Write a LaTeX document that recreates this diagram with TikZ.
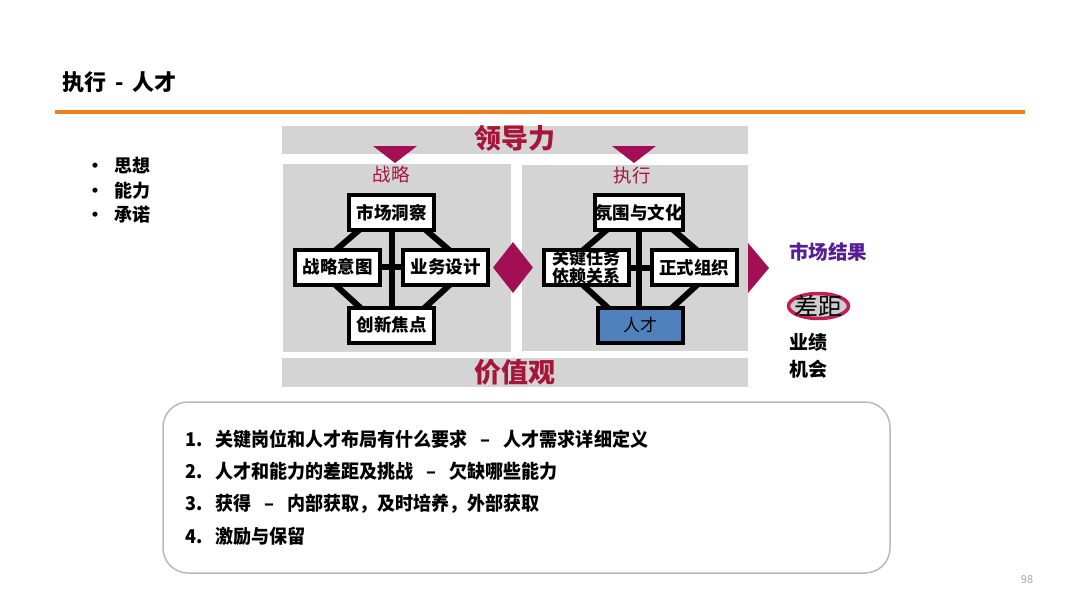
\documentclass[tikz,border=0pt]{standalone}
\usepackage{fontspec}
\setmainfont{Noto Sans CJK SC}
\newfontfamily\cjkn[FakeStretch=0.95]{Noto Sans CJK SC}
\usetikzlibrary{calc,shapes.geometric}
\pgfdeclarelayer{back}
\pgfdeclarelayer{mid}
\pgfsetlayers{back,mid,main}
\definecolor{redtxt}{RGB}{165,22,58}
\definecolor{mag}{RGB}{163,15,85}
\definecolor{purp}{RGB}{85,30,150}
\definecolor{talent}{RGB}{79,129,189}
\definecolor{panelg}{RGB}{212,212,212}
\definecolor{ellg}{RGB}{205,205,205}
\definecolor{ellb}{RGB}{192,30,90}
\definecolor{orng}{RGB}{240,125,30}
\definecolor{frameg}{RGB}{185,185,185}
\tikzset{
  box/.style={draw=black, line width=4pt, fill=white, minimum width=85pt, minimum height=35pt,
    inner sep=0pt, align=center, font=\fontsize{17.5}{18}\selectfont\bfseries},
  panel/.style={fill=panelg, draw=none, inner sep=0pt},
  link/.style={line width=6pt, black},
  octa/.style={line width=6pt, black, line join=round},
  item/.style={anchor=west, inner sep=0pt, font=\cjkn\fontsize{19}{19}\selectfont\bfseries},
  bigred/.style={text=redtxt, font=\fontsize{27}{27}\selectfont\bfseries},
  lbl/.style={text=redtxt, font=\fontsize{18.5}{18.5}\selectfont},
}
\newcommand{\octagonpath}{%
  (-26.5,12.5) -- (28.5,12.5) -- (63.5,42.5) -- (63.5,67.5) -- (28.5,99.5) --
  (-26.5,99.5) -- (-61.5,67.5) -- (-61.5,42.5) -- cycle}
\newcommand{\itemnum}[1]{\makebox[30pt][l]{#1}}
\newcommand{\dashsep}{\hspace{13pt}–\hspace{13pt}}
\begin{document}
\begin{tikzpicture}[x=1pt,y=-1pt]
\useasboundingbox (0,0) rectangle (1080,608);
\begin{pgfonlayer}{back}
\fill[white] (0,0) rectangle (1080,608);
\end{pgfonlayer}

% title and rule
\node[anchor=west, inner sep=0pt, font=\fontsize{22}{22}\selectfont\bfseries] (title) at (62,82) {执行\hspace{9pt}-\hspace{9pt}人才};
\coordinate (ruleL) at (55,112);
\coordinate (ruleR) at (1025,112);
\draw[orng, line width=4pt] (ruleL) -- (ruleR);

% bullets
\node[anchor=north west, inner sep=0pt, align=left, font=\fontsize{18}{24.5}\selectfont\bfseries] (bul) at (86,157)
  {\textbullet\hspace{10pt}思想\\ \textbullet\hspace{10pt}能力\\ \textbullet\hspace{10pt}承诺};

% bars and panels
\begin{pgfonlayer}{back}
\node[panel, minimum width=466pt, minimum height=28pt] (lead) at (515,140) {};
\node[panel, minimum width=466pt, minimum height=29pt] (vals) at (515,372.5) {};
\node[panel, minimum width=228pt, minimum height=188pt] (lp) at (397,258) {};
\node[panel, minimum width=226pt, minimum height=186pt] (rp) at (635,258) {};
\end{pgfonlayer}
\node[bigred] (leadt) at (515,138) {领导力};
\node[bigred] (valst) at (515,372) {价值观};

% down triangles
\fill[mag] (373,146) -- (417,146) -- (395,163) -- cycle;
\fill[mag] (612,146) -- (656,146) -- (634,163) -- cycle;
\node[lbl] (stratl) at (391,174) {战略};
\node[lbl] (execl) at (632,175) {执行};

% left diamond of boxes
\node[box] (mkt) at (391.5,212.5) {市场洞察};
\node[box] (intent) at (337.5,267) {战略意图};
\node[box] (biz) at (445.5,267) {业务设计};
\node[box] (innov) at (391.5,325) {创新焦点};

% right diamond of boxes
\node[box] (cult) at (639,212.5) {氛围与文化};
\node[box, font=\fontsize{17}{18}\selectfont\bfseries] (task) at (586,267.5) {关键任务\\依赖关系};
\node[box] (org) at (694,267.5) {正式组织};
\node[box, fill=talent, font=\fontsize{17}{18}\selectfont] (tal) at (640,325) {人才};

\begin{pgfonlayer}{mid}
\begin{scope}[shift={(mkt.center)}]
\draw[octa] \octagonpath;
\end{scope}
\begin{scope}[shift={(cult.center)}]
\draw[octa] \octagonpath;
\end{scope}
\draw[link] (mkt) -- (innov);
\draw[link] (intent) -- (biz);
\draw[link] (cult.center) -- (cult.center |- tal.center);
\draw[link] (task) -- (org);
\end{pgfonlayer}

% centre diamond and right arrow
\node[diamond, fill=mag, minimum width=40pt, minimum height=51pt, inner sep=0pt, aspect=0.8] (dia) at (513,267.5) {};
\fill[mag] (748,243) -- (769,268) -- (748,293) -- cycle;

% results
\node[anchor=west, inner sep=0pt, text=purp, font=\fontsize{19.5}{19.5}\selectfont\bfseries] (res) at (789,252) {市场结果};
\node[ellipse, draw=ellb, fill=ellg, line width=3.5pt, minimum width=60pt, minimum height=25pt, inner sep=0pt] (gapbg) at (818.5,306) {};
\node[inner sep=0pt, font=\fontsize{24}{24}\selectfont] (gapt) at (gapbg) {差距};
\node[anchor=north west, inner sep=0pt, align=left, font=\fontsize{19}{27}\selectfont\bfseries] (perf) at (789,333) {业绩\\机会};

% bottom list
\node[draw=frameg, line width=1.5pt, rounded corners=25pt, minimum width=727pt, minimum height=171pt] (list) at (526.5,487.5) {};
\node[item] (i1) at (185,439) {\itemnum{1.}关键岗位和人才布局有什么要求\dashsep 人才需求详细定义};
\node[item] (i2) at (185,471) {\itemnum{2.}人才和能力的差距及挑战\dashsep 欠缺哪些能力};
\node[item] (i3) at (185,504) {\itemnum{3.}获得\dashsep 内部获取，及时培养，外部获取};
\node[item] (i4) at (185,536) {\itemnum{4.}激励与保留};

% page number
\node[text=gray!70, font=\fontsize{11}{11}\selectfont] (pg) at (1027,580) {98};
\end{tikzpicture}
\end{document}
